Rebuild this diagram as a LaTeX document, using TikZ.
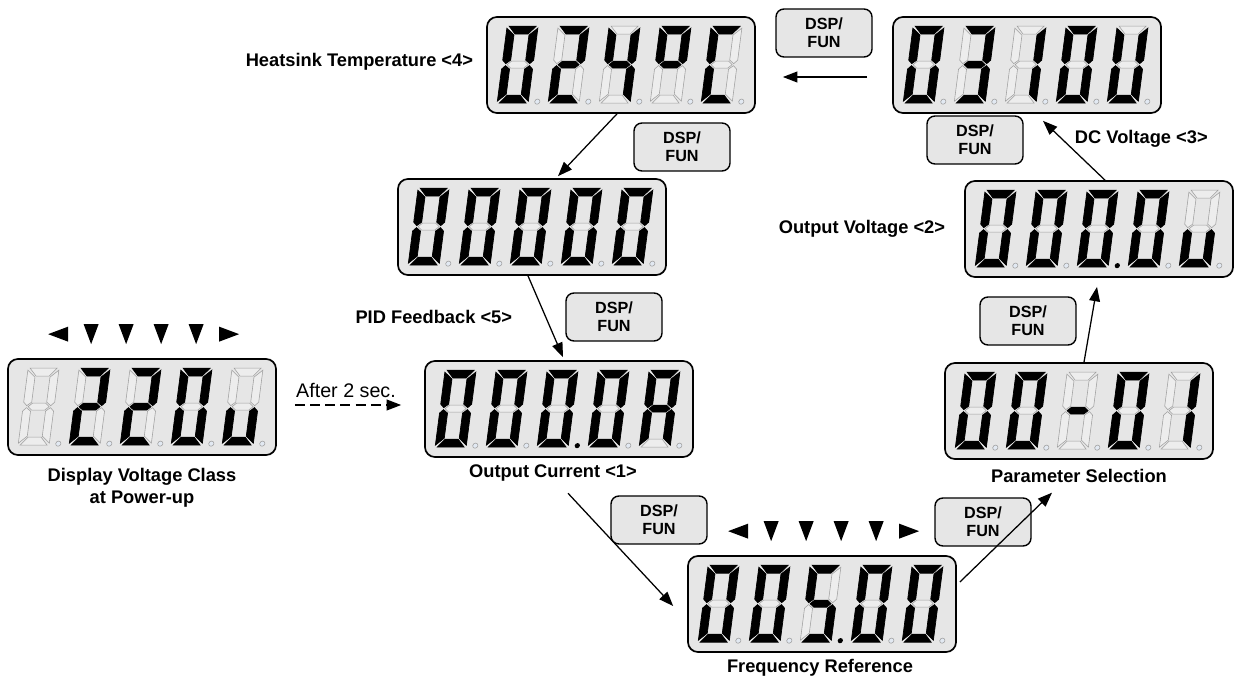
\documentclass[tikz,border=0pt]{standalone}
\usepackage{fontspec}
\setmainfont{Liberation Sans}
\usetikzlibrary{arrows.meta,calc,positioning}

\definecolor{lcdgray}{RGB}{230,230,230}
\definecolor{segoff}{RGB}{237,237,237}
\definecolor{segline}{RGB}{160,160,160}
\definecolor{dotoff}{RGB}{226,233,242}

\tikzset{
  lcdbox/.style={draw, line width=1.2pt, fill=lcdgray, rounded corners=0.25cm,
    minimum width=6.7cm, minimum height=2.4cm, inner sep=0pt},
  seg0/.style={fill=segoff, draw=segline, line width=.4pt},
  seg1/.style={fill=black, draw=black, line width=.5pt},
  dot0/.style={fill=dotoff, draw=segline, line width=.4pt},
  dot1/.style={fill=black},
  dspbtn/.style={draw, line width=1pt, fill=lcdgray, rounded corners=0.2cm,
    minimum width=2.4cm, minimum height=1.2cm, align=center,
    font=\bfseries\fontsize{11.5}{12.8}\selectfont},
  lbl/.style={align=center, font=\bfseries\fontsize{13}{15.6}\selectfont},
  flow/.style={line width=0.9pt, -{Triangle[length=0.36cm,width=0.27cm]}}
}

\def\lcdsegs#1#2#3#4#5#6#7#8\relax{%
  \path[seg#1] (2,0) -- (29,0) -- (22,8) -- (9,8) -- cycle;
  \path[seg#2] (31,2) -- (31,34) -- (27.5,37.5) -- (23,34) -- (23,9) -- cycle;
  \path[seg#3] (31,43) -- (31,75) -- (23,68) -- (23,43) -- (27.5,39.5) -- cycle;
  \path[seg#4] (9,69) -- (22,69) -- (29,77) -- (2,77) -- cycle;
  \path[seg#5] (0,43) -- (3.5,39.5) -- (8,43) -- (8,68) -- (0,75) -- cycle;
  \path[seg#6] (0,2) -- (8,9) -- (8,34) -- (3.5,37.5) -- (0,34) -- cycle;
  \path[seg#7] (5,38.5) -- (9,35) -- (22,35) -- (26,38.5) -- (22,42) -- (9,42) -- cycle;
  \path[dot#8] (40,75.5) circle (0.065cm);
}
\newcommand\lcddigit[3]{%
  \begin{scope}[shift={(#1.north west)},shift={(21+51*#2,10)},xslant=.13]
    \expandafter\lcdsegs#3\relax
  \end{scope}}
\newcommand\lcdpanel[3]{%
  \node[lcdbox] (#1) at (#2) {};
  \foreach \code [count=\i from 0] in {#3}
    {\lcddigit{#1}{\i}{\code}}}
\newcommand\lcdmarks[1]{%
  \foreach \dx/\ang in {51/180,84/270,119/270,154/270,189/270,222/0}
    \fill[shift={($(#1.north west)+(\dx,-24)$)},rotate=\ang]
      (10,0) -- (-10,7.5) -- (-10,-7.5) -- cycle;}

\begin{document}
\begin{tikzpicture}[x=0.025cm,y=-0.025cm]
\useasboundingbox (0,0) rectangle (1247,682);

\lcdpanel{pwr}{142,407}{00000000,11011010,11011010,11111100,00111000}
\lcdpanel{cur}{559,409}{11111100,11111100,11111101,11111100,11101110}
\lcdpanel{pid}{532,227}{11111100,11111100,11111100,11111100,11111100}
\lcdpanel{heat}{621,65}{11111100,11011010,01100110,11000110,10011100}
\lcdpanel{dcv}{1027,65}{11111100,11110010,01100000,11111100,01111100}
\lcdpanel{outv}{1099,229}{11111100,11111100,11111101,11111100,00111000}
\lcdpanel{par}{1079,411}{11111100,11111100,00000010,11111100,01100000}
\lcdpanel{freq}{822,604}{11111100,11111100,10110111,11111100,11111100}
\lcdmarks{pwr}
\lcdmarks{freq}

\node[dspbtn] (btn1) at (824,33) {DSP/\\FUN};
\node[dspbtn] (btn2) at (682,147) {DSP/\\FUN};
\node[dspbtn] (btn3) at (614,317) {DSP/\\FUN};
\node[dspbtn] (btn4) at (659,520) {DSP/\\FUN};
\node[dspbtn] (btn5) at (983,522) {DSP/\\FUN};
\node[dspbtn] (btn6) at (1028,321) {DSP/\\FUN};
\node[dspbtn] (btn7) at (975,140) {DSP/\\FUN};

\node[lbl] (pwrlbl) at (142,488) {Display Voltage Class\\at Power-up};
\node[lbl] (curlbl) at (553,473) {Output Current <1>};
\node[lbl,anchor=east] (pidlbl) at (517,317) {PID Feedback <5>};
\node[lbl,anchor=east] (heatlbl) at (478,62) {Heatsink Temperature <4>};
\node[lbl,anchor=west] (dcvlbl) at (1070,139) {DC Voltage <3>};
\node[lbl,anchor=east] (outvlbl) at (950,229) {Output Voltage <2>};
\node[lbl] (parlbl) at (1079,476) {Parameter Selection};
\node[lbl] (freqlbl) at (820,668) {Frequency Reference};
\node[font=\fontsize{14}{16}\selectfont] (waitlbl) at (346,390) {After 2 sec.};

\draw[flow,dash pattern=on 0.25cm off 0.13cm] ($(pwr.east)+(18,-2)$) -- ($(cur.west)+(-23,-4)$);
\draw[flow] ($(curlbl.south)+(15,7)$) -- ($(freq.west)+(-14,2)$);
\draw[flow] ($(freq.east)+(3,-22)$) -- ($(parlbl.south)+(-27,5)$);
\draw[flow] ($(par.north)+(5,0)$) -- ($(outv.south)+(-2,9)$);
\draw[flow] ($(outv.north)+(6,0)$) -- ($(dcv.south)+(16,7)$);
\draw[flow] ($(dcv.west)+(-25,12)$) -- ($(heat.east)+(27,12)$);
\draw[flow] ($(heat.south)+(-4,0)$) -- ($(pid.north)+(26,-2)$);
\draw[flow] ($(pid.south)+(-4,0)$) -- ($(cur.north)+(4,-3)$);
\end{tikzpicture}
\end{document}
